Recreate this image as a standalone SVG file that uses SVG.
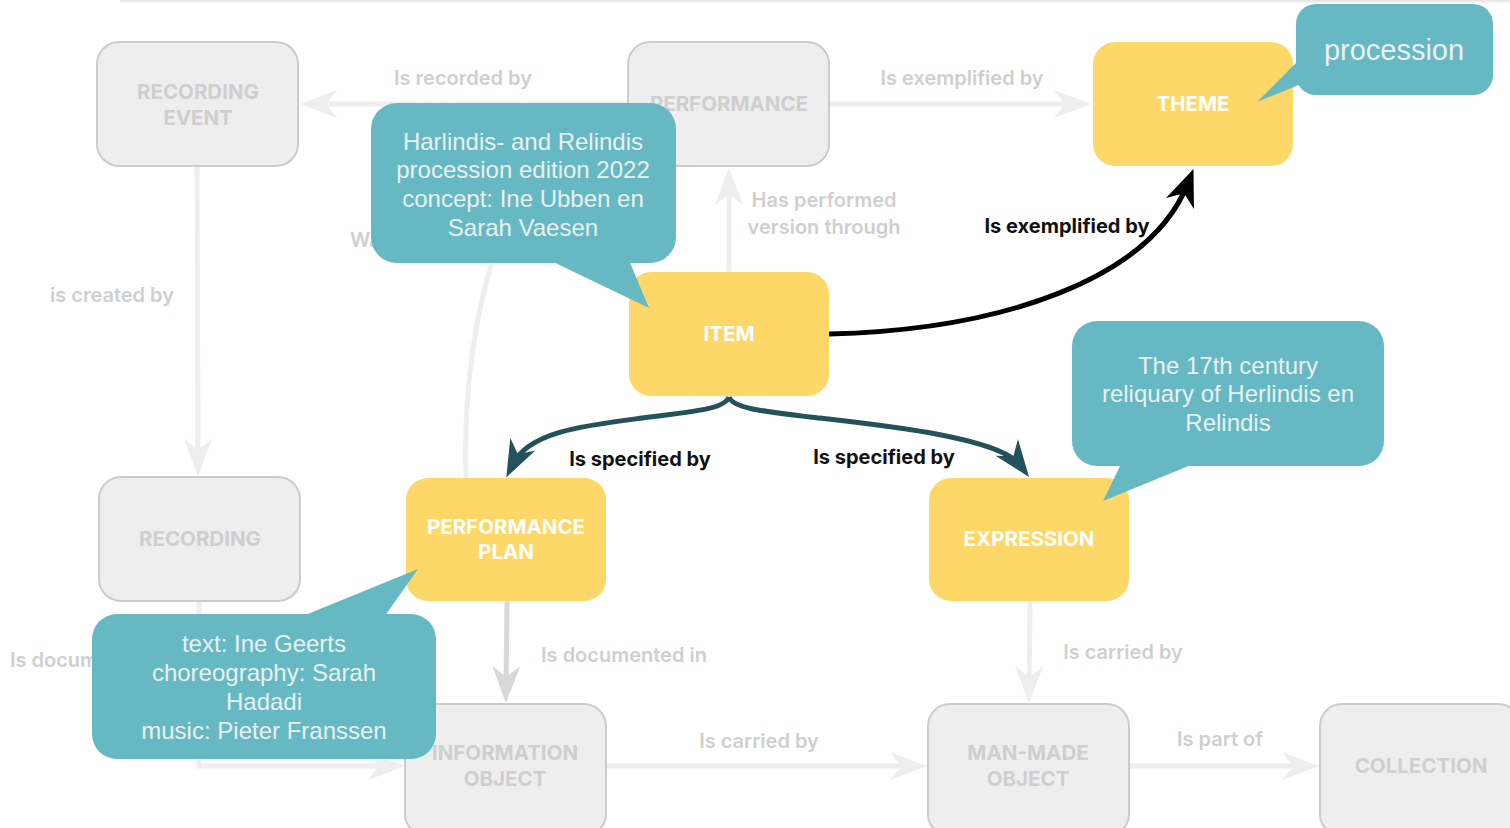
<svg xmlns="http://www.w3.org/2000/svg" width="1510" height="828" viewBox="0 0 1510 828">
<defs>
<linearGradient id="topShadow" x1="0" y1="0" x2="0" y2="1">
<stop offset="0" stop-color="#e2e2e2"/>
<stop offset="1" stop-color="#ffffff"/>
</linearGradient>
<marker id="arrGrey" viewBox="0 0 40 30" refX="23" refY="15" markerWidth="40" markerHeight="30" markerUnits="userSpaceOnUse" orient="auto">
<path d="M1,1 L38,15 L1,29 L12,15 Z" fill="#eeeeee"/>
</marker>
<marker id="arrGreyDark" viewBox="0 0 40 30" refX="23" refY="15" markerWidth="40" markerHeight="30" markerUnits="userSpaceOnUse" orient="auto">
<path d="M1,1 L38,15 L1,29 L12,15 Z" fill="#d8d8d8"/>
</marker>
<marker id="arrBlack" viewBox="0 0 40 32" refX="23" refY="16" markerWidth="40" markerHeight="32" markerUnits="userSpaceOnUse" orient="auto">
<path d="M1,1 L38,16 L1,31 L12,16 Z" fill="#000000"/>
</marker>
<marker id="arrTeal" viewBox="0 0 40 30" refX="23" refY="15" markerWidth="40" markerHeight="30" markerUnits="userSpaceOnUse" orient="auto">
<path d="M1,1 L38,15 L1,29 L12,15 Z" fill="#24525a"/>
</marker>
</defs>
<style>
.ng rect{fill:#eeeeee;stroke:#cccccc;stroke-width:2}
.ny rect{fill:#fdd868}
.ng text{fill:#cfcfcf}
.ny text{fill:#ffffff}
.nt{font-family:Inter,"Liberation Sans",sans-serif;font-weight:700;font-size:20.5px;text-anchor:middle}
.e{fill:none;stroke:#eeeeee;stroke-width:5}
.ed{fill:none;stroke:#d8d8d8;stroke-width:5}
.eb{fill:none;stroke:#000000;stroke-width:5}
.et{fill:none;stroke:#24525a;stroke-width:5}
.lg{font-family:Inter,"Liberation Sans",sans-serif;font-weight:600;font-size:20px;fill:#cfcfcf}
.lb{font-family:Inter,"Liberation Sans",sans-serif;font-weight:700;font-size:20px;fill:#111111}
.c{fill:#66b9c3}
.ct{font-family:"Liberation Sans",Arial,sans-serif;font-size:24px;fill:#e9f0f0;text-anchor:middle}
.mid{text-anchor:middle}
</style>
<rect x="120" y="0" width="1390" height="4" fill="url(#topShadow)"/>

<g id="connectors">
<path class="e" d="M628,104 H315" marker-end="url(#arrGrey)"/>
<path class="e" d="M829,104 H1076" marker-end="url(#arrGrey)"/>
<path class="e" d="M197,166 L198,461" marker-end="url(#arrGrey)"/>
<path class="e" d="M729,272 V183" marker-end="url(#arrGrey)"/>
<path class="e" d="M466,478 C463,390 476,305 498,245 S560,150 610,130"/>
<path class="e" d="M199,601 V766 H390" marker-end="url(#arrGrey)"/>
<path class="ed" d="M507,601 L506,688" marker-end="url(#arrGreyDark)"/>
<path class="e" d="M1030,601 L1029,688" marker-end="url(#arrGrey)"/>
<path class="e" d="M606,766 H912" marker-end="url(#arrGrey)"/>
<path class="e" d="M1129,766 H1304" marker-end="url(#arrGrey)"/>
<path class="eb" d="M829,334 C1000,330 1150,280 1188,183" marker-end="url(#arrBlack)"/>
<path class="et" d="M729,397 C725,408 700,411 650,417 C590,425 530,430 513,464" marker-end="url(#arrTeal)"/>
<path class="et" d="M729,397 C733,408 760,411 810,417 C880,425 999,437 1020,465" marker-end="url(#arrTeal)"/>
<text class="lg mid" x="463" y="85">Is recorded by</text>
<text class="lg mid" x="962" y="85">Is exemplified by</text>
<text class="lg mid" x="112" y="302">is created by</text>
<text class="lg mid" x="824" y="207">Has performed</text>
<text class="lg mid" x="824" y="234">version through</text>
<text class="lg" x="350" y="247">Wa</text>
<text class="lg" x="10" y="667">Is documented in</text>
<text class="lg mid" x="624" y="662">Is documented in</text>
<text class="lg mid" x="1123" y="659">Is carried by</text>
<text class="lg mid" x="759" y="748">Is carried by</text>
<text class="lg mid" x="1220" y="746">Is part of</text>
<text class="lb mid" x="1067" y="233">Is exemplified by</text>
<text class="lb mid" x="640" y="466">Is specified by</text>
<text class="lb mid" x="884" y="464">Is specified by</text>
</g>

<g id="recording-event" class="ng"><rect x="97" y="42" width="201" height="124" rx="22"/><text class="nt" x="198" y="99">RECORDING</text><text class="nt" x="198" y="125">EVENT</text></g>
<g id="performance" class="ng"><rect x="628" y="42" width="201" height="124" rx="22"/><text class="nt" x="729" y="111">PERFORMANCE</text></g>
<g id="theme" class="ny"><rect x="1093" y="42" width="200" height="124" rx="22"/><text class="nt" x="1193" y="111">THEME</text></g>
<g id="item" class="ny"><rect x="629" y="272" width="200" height="124" rx="22"/><text class="nt" x="729" y="341">ITEM</text></g>
<g id="recording" class="ng"><rect x="99" y="477" width="201" height="124" rx="22"/><text class="nt" x="200" y="546">RECORDING</text></g>
<g id="performance-plan" class="ny"><rect x="406" y="478" width="200" height="123" rx="22"/><text class="nt" x="506" y="534">PERFORMANCE</text><text class="nt" x="506" y="559">PLAN</text></g>
<g id="expression" class="ny"><rect x="929" y="478" width="200" height="123" rx="22"/><text class="nt" x="1029" y="546">EXPRESSION</text></g>
<g id="information-object" class="ng"><rect x="405" y="704" width="201" height="132" rx="22"/><text class="nt" x="505" y="760">INFORMATION</text><text class="nt" x="505" y="786">OBJECT</text></g>
<g id="man-made-object" class="ng"><rect x="928" y="704" width="201" height="132" rx="22"/><text class="nt" x="1028" y="760">MAN-MADE</text><text class="nt" x="1028" y="786">OBJECT</text></g>
<g id="collection" class="ng"><rect x="1320" y="704" width="200" height="132" rx="22"/><text class="nt" x="1421" y="773">COLLECTION</text></g>

<g id="callout-item">
<rect class="c" x="371" y="103" width="305" height="160" rx="26"/>
<polygon class="c" points="545,258 628,258 649,308"/>
<text class="ct" x="523" y="150">Harlindis- and Relindis</text>
<text class="ct" x="523" y="178">procession edition 2022</text>
<text class="ct" x="523" y="207">concept: Ine Ubben en</text>
<text class="ct" x="523" y="236">Sarah Vaesen</text>
</g>
<g id="callout-theme">
<rect class="c" x="1296" y="4" width="197" height="91" rx="20"/>
<polygon class="c" points="1301,58 1301,84 1257,102"/>
<text class="ct" x="1394" y="60" style="font-size:29px">procession</text>
</g>
<g id="callout-expression">
<rect class="c" x="1072" y="321" width="312" height="145" rx="25"/>
<polygon class="c" points="1123,460 1203,460 1103,501"/>
<text class="ct" x="1228" y="374">The 17th century</text>
<text class="ct" x="1228" y="402">reliquary of Herlindis en</text>
<text class="ct" x="1228" y="431">Relindis</text>
</g>
<g id="callout-performance-plan">
<rect class="c" x="92" y="614" width="344" height="145" rx="25"/>
<polygon class="c" points="293,620 382,620 418,569"/>
<text class="ct" x="264" y="652">text: Ine Geerts</text>
<text class="ct" x="264" y="681">choreography: Sarah</text>
<text class="ct" x="264" y="710">Hadadi</text>
<text class="ct" x="264" y="739">music: Pieter Franssen</text>
</g>
</svg>
